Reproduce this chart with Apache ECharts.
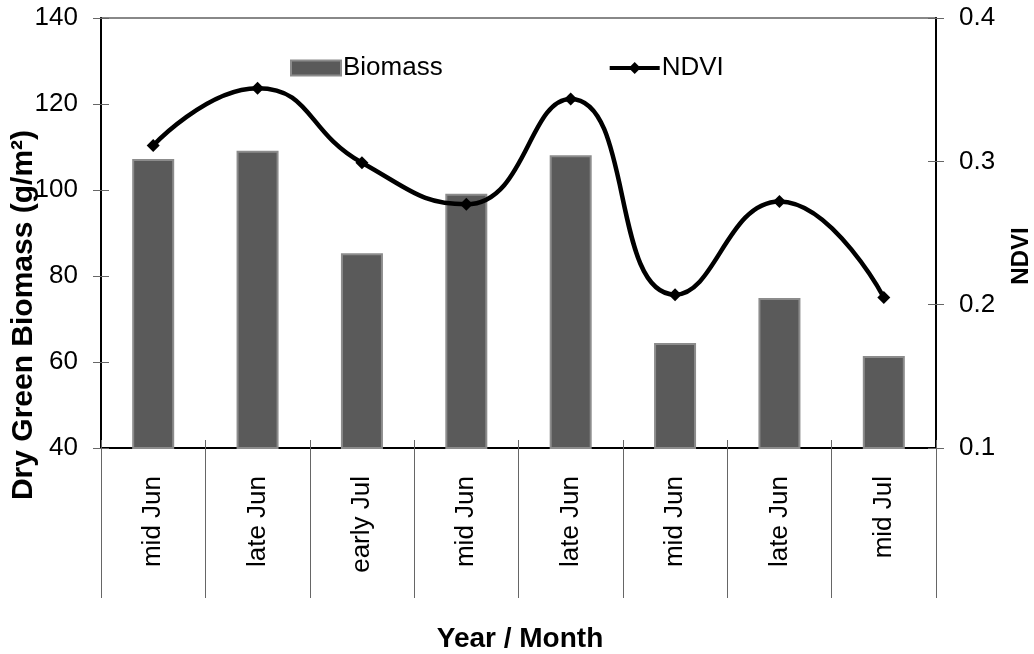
<!DOCTYPE html>
<html>
<head>
<meta charset="utf-8">
<script src="https://cdn.jsdelivr.net/npm/echarts@6/dist/echarts.min.js"></script>
<style>
  html, body { margin: 0; padding: 0; background: #fff; }
  #chart { width: 1034px; height: 654px; }
</style>
</head>
<body>
<div id="chart"></div>
<script>
// values
const categories = ['mid Jun', 'late Jun', 'early Jul', 'mid Jun', 'late Jun', 'mid Jun', 'late Jun', 'mid Jul'];
const biomass = [107.2, 109.1, 85.3, 99.1, 108.1, 64.4, 74.9, 61.4];
const ndvi = [0.311, 0.351, 0.299, 0.270, 0.3435, 0.207, 0.272, 0.205];

const font = 'Arial, "Liberation Sans", sans-serif';

function valueAxis(pos, min, max, interval, main) {
    return {
        type: 'value',
        position: pos,
        min: min,
        max: max,
        interval: interval,
        splitLine: { show: false },
        axisLine: { show: main, lineStyle: { color: '#000', width: 2 } },
        axisTick: { show: true, inside: !main, length: 8, lineStyle: { color: '#666', width: 1 } },
        axisLabel: {
            show: main, margin: 23, color: '#000', fontSize: 26, fontFamily: font
        }
    };
}

var myChart = echarts.init(document.getElementById('chart'));
myChart.setOption({
    animation: false,
    textStyle: { fontFamily: font },
    grid: {
        left: 101, right: 98, top: 18, bottom: 206,
        show: true, borderColor: '#888', borderWidth: 2, backgroundColor: 'transparent'
    },
    legend: {
        left: 285,
        top: 50,
        itemWidth: 50,
        itemHeight: 15,
        itemGap: 165,
        textStyle: { fontSize: 26, color: '#000', fontFamily: font, padding: [0, 0, 0, -3] },
        data: [
            { name: 'Biomass', icon: 'rect' },
            { name: 'NDVI', lineStyle: { width: 4 } }
        ]
    },
    xAxis: [{
        type: 'category',
        data: categories,
        axisLine: { lineStyle: { color: '#000', width: 2 } },
        axisTick: { show: true, interval: 0, length: 150, lineStyle: { color: '#666', width: 1 } },
        axisLabel: { rotate: 90, margin: 28, color: '#000', fontSize: 26, fontFamily: font, interval: 0 }
    }, {
        type: 'category',
        data: categories,
        position: 'bottom',
        axisLine: { show: false },
        axisTick: { show: true, interval: 0, inside: true, length: 8, lineStyle: { color: '#666', width: 1 } },
        axisLabel: { show: false }
    }],
    yAxis: [
        valueAxis('left', 40, 140, 20, true),
        valueAxis('right', 0.1, 0.4, 0.1, true),
        valueAxis('left', 40, 140, 20, false),
        valueAxis('right', 0.1, 0.4, 0.1, false)
    ],
    graphic: [{
        type: 'text',
        x: 24, y: 315,
        rotation: Math.PI / 2,
        style: {
            text: 'Dry Green Biomass (g/m²)', fontSize: 30, fontWeight: 'bold',
            fontFamily: font, fill: '#000', align: 'center', verticalAlign: 'middle'
        }
    }, {
        type: 'text',
        x: 1021, y: 256,
        rotation: Math.PI / 2,
        style: {
            text: 'NDVI', fontSize: 24, fontWeight: 'bold',
            fontFamily: font, fill: '#000', align: 'center', verticalAlign: 'middle'
        }
    }, {
        type: 'text',
        x: 520, y: 639,
        style: {
            text: 'Year / Month', fontSize: 28, fontWeight: 'bold',
            fontFamily: font, fill: '#000', align: 'center', verticalAlign: 'middle'
        }
    }],
    series: [{
        name: 'Biomass',
        type: 'bar',
        data: biomass,
        barWidth: 42,
        itemStyle: { color: '#5a5a5a', borderColor: '#8c8c8c', borderWidth: 2 }
    }, {
        name: 'NDVI',
        type: 'line',
        yAxisIndex: 1,
        data: ndvi,
        smooth: 0.5,
        symbol: 'diamond',
        symbolSize: 13,
        lineStyle: { color: '#000', width: 4.5 },
        itemStyle: { color: '#000' }
    }]
});
window.addEventListener('resize', function () {
    myChart.resize();
});
</script>
</body>
</html>
